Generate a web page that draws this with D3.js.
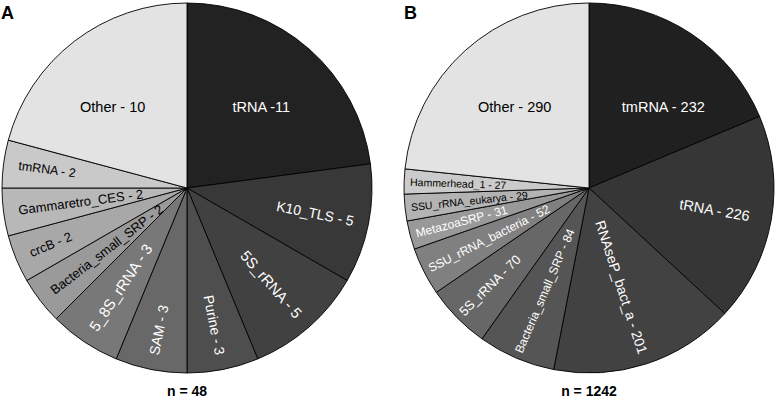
<!DOCTYPE html>
<html>
<head>
<meta charset="utf-8">
<script src="https://cdn.jsdelivr.net/npm/d3@7/dist/d3.min.js"></script>
<style>
  html, body { margin: 0; padding: 0; background: #fff; }
  svg { display: block; font-family: "Liberation Sans", Arial, sans-serif; }
</style>
</head>
<body>
<svg id="chart" width="777" height="401"></svg>
<script>
// ---- Data ----
const categoriesA = ["tRNA", "K10_TLS", "5S_rRNA", "Purine", "SAM", "5_8S_rRNA",
  "Bacteria_small_SRP", "crcB", "Gammaretro_CES", "tmRNA", "Other"];
const valuesA = [11, 5, 5, 3, 3, 3, 2, 2, 2, 2, 10];
const labelsA = ["tRNA -11", "K10_TLS - 5", "5S_rRNA - 5", "Purine - 3", "SAM - 3",
  "5_8S_rRNA - 3", "Bacteria_small_SRP - 2", "crcB - 2", "Gammaretro_CES - 2",
  "tmRNA - 2", "Other - 10"];

const categoriesB = ["tmRNA", "tRNA", "RNAseP_bact_a", "Bacteria_small_SRP", "5S_rRNA",
  "SSU_rRNA_bacteria", "MetazoaSRP", "SSU_rRNA_eukarya", "Hammerhead_1", "Other"];
const valuesB = [232, 226, 201, 84, 70, 52, 31, 29, 27, 290];
const labelsB = ["tmRNA - 232", "tRNA - 226", "RNAseP_bact_a - 201", "Bacteria_small_SRP - 84",
  "5S_rRNA - 70", "SSU_rRNA_bacteria - 52", "MetazoaSRP - 31", "SSU_rRNA_eukarya - 29",
  "Hammerhead_1 - 27", "Other - 290"];

const panelTitles = ["A", "B"];
const totals = ["n = 48", "n = 1242"];

// ---- Styles (kept separate from data) ----
const fillsA = ["#222222", "#383838", "#414141", "#4e4e4e", "#686868", "#787878",
  "#9a9a9a", "#a8a8a8", "#b8b8b8", "#c9c9c9", "#e3e3e3"];
const fillsB = ["#202020", "#363636", "#424242", "#555555", "#676767", "#808080",
  "#999999", "#b3b3b3", "#cbcbcb", "#e3e3e3"];
const textColA = ["#fff","#fff","#fff","#fff","#fff","#fff","#000","#000","#000","#000","#000"];
const textColB = ["#fff","#fff","#fff","#fff","#fff","#fff","#fff","#000","#000","#000"];
const fontA = [14.5, 14, 15, 14, 14, 15, 13, 13, 13, 12.5, 14.5];
const fontB = [14.5, 14.5, 14, 12, 13, 12, 12, 10.5, 10.5, 14.5];

const svg = d3.select("#chart");
svg.append("rect").attr("width", 777).attr("height", 401).attr("fill", "#fff");

const R = 185;

function drawPie(cx, cy, values, labels, fills, textCols, fonts, title, total, outerPad, padOverride) {
  const g = svg.append("g").attr("transform", `translate(${cx},${cy})`);
  const pie = d3.pie().sort(null).value(d => d)(values);
  const arc = d3.arc().innerRadius(0).outerRadius(R);

  g.selectAll("path.slice").data(pie).enter().append("path")
    .attr("class", "slice")
    .attr("d", arc)
    .attr("fill", (d, i) => fills[i])
    .attr("stroke", "#000")
    .attr("stroke-width", 0.9)
    .attr("stroke-linejoin", "round");

  const n = values.length;
  pie.forEach((d, i) => {
    const mid = (d.startAngle + d.endAngle) / 2;
    const t = g.append("text")
      .text(labels[i])
      .attr("fill", textCols[i])
      .attr("font-size", fonts[i] + "px")
      .attr("dominant-baseline", "central");
    if (i === 0 || i === n - 1) {
      // large top slices: horizontal label
      const a = (i === 0 ? 1 : -1) * 42.5 * Math.PI / 180;
      const r = 110;
      t.attr("x", r * Math.sin(a)).attr("y", -r * Math.cos(a)).attr("text-anchor", "middle");
    } else {
      const pad = (padOverride && padOverride[i] != null) ? padOverride[i] : outerPad;
      const r = R - pad;
      const x = r * Math.sin(mid), y = -r * Math.cos(mid);
      const deg = mid * 180 / Math.PI;
      let rot, anchor;
      if (mid < Math.PI) { rot = deg - 90; anchor = "end"; }
      else { rot = deg - 270; anchor = "start"; }
      t.attr("text-anchor", anchor)
        .attr("transform", `translate(${x},${y}) rotate(${rot})`);
    }
  });

  svg.append("text")
    .attr("x", cx).attr("y", 396)
    .attr("text-anchor", "middle")
    .attr("font-weight", "bold")
    .attr("font-size", "14px")
    .text(total);

  return g;
}

drawPie(187, 188, valuesA, labelsA, fillsA, textColA, fontA, "A", totals[0], 15, null);
drawPie(589, 188, valuesB, labelsB, fillsB, textColB, fontB, "B", totals[1], 6, {1: 22, 2: 11});

svg.append("text").attr("x", 1).attr("y", 19).attr("font-weight", "bold")
  .attr("font-size", "18px").text(panelTitles[0]);
svg.append("text").attr("x", 404).attr("y", 19).attr("font-weight", "bold")
  .attr("font-size", "18px").text(panelTitles[1]);
</script>
</body>
</html>
